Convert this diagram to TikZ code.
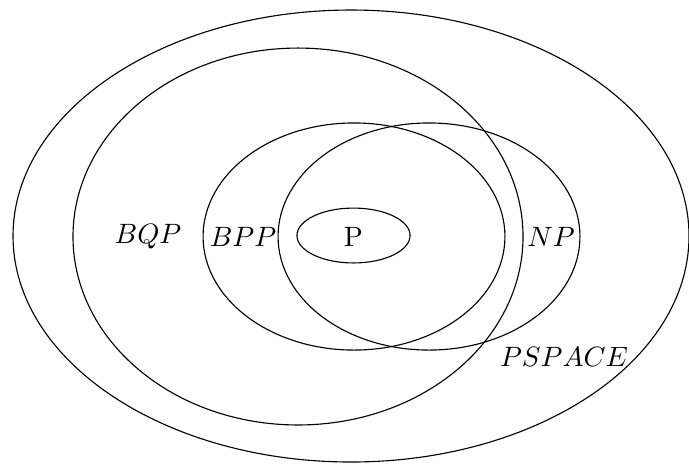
\documentclass[tikz,border=0pt]{standalone}
\usetikzlibrary{shapes.geometric}
\begin{document}
\begin{tikzpicture}[x=0.3571pt,y=-0.3571pt,
  set/.style={draw,ellipse,inner sep=0pt,line width=0.4pt},
  lab/.style={inner sep=0pt}]
\useasboundingbox (0,0) rectangle (689,464);
\node[set,minimum width=241.4pt,minimum height=161.4pt] (pspace) at (351,236) {};
\node[set,minimum width=160.7pt,minimum height=134.6pt] (bqp) at (298,236.5) {};
\node[set,minimum width=107.8pt,minimum height=81.1pt] (bpp) at (354,236.5) {};
\node[set,minimum width=107.8pt,minimum height=81.1pt] (np) at (429,236.5) {};
\node[set,minimum width=40.4pt,minimum height=19.6pt] (p) at (353.5,235.5) {};
\node[lab] (lp) at (353.5,237) {P};
\node[lab] (lbpp) at (243,237) {$BPP$};
\node[lab] (lnp) at (551,237) {$NP$};
\node[lab] (lbqp) at (148,237) {$BQP$};
\node[lab] (lpspace) at (564,357) {$PSPACE$};
\end{tikzpicture}
\end{document}
